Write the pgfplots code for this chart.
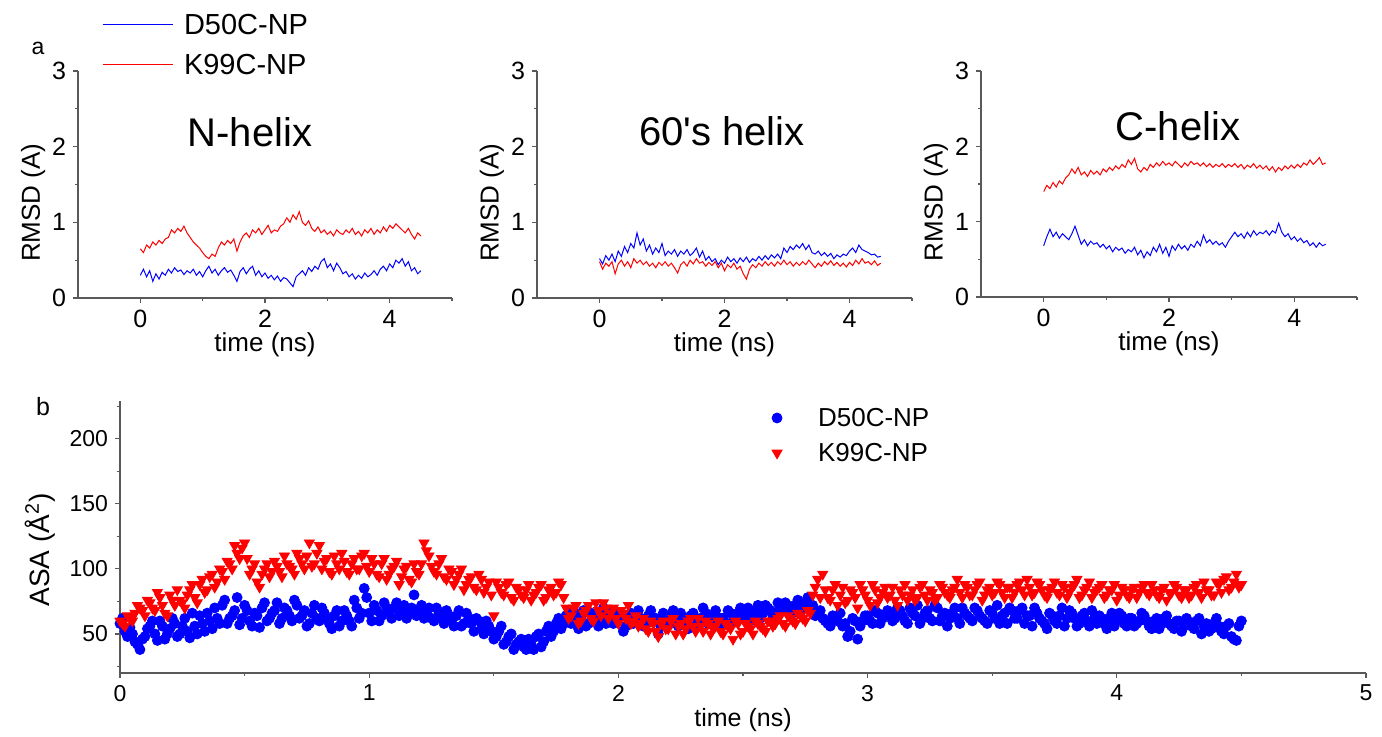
\documentclass[border=0pt]{standalone}
\usepackage{fontspec}
\setmainfont{Liberation Sans}
\usepackage{pgfplots}
\usepackage{pgfplotstable}
\pgfplotsset{compat=1.18}

\pgfplotstableread{
t d50 k99
0.00 0.30 0.65
0.05 0.38 0.60
0.10 0.28 0.70
0.15 0.36 0.66
0.20 0.22 0.74
0.25 0.32 0.70
0.30 0.25 0.76
0.35 0.34 0.72
0.40 0.30 0.78
0.45 0.38 0.80
0.50 0.33 0.90
0.55 0.40 0.86
0.60 0.35 0.92
0.65 0.37 0.88
0.70 0.31 0.95
0.75 0.36 0.86
0.80 0.33 0.80
0.85 0.38 0.74
0.90 0.30 0.70
0.95 0.35 0.66
1.00 0.28 0.60
1.05 0.36 0.55
1.10 0.42 0.52
1.15 0.33 0.58
1.20 0.38 0.55
1.25 0.30 0.66
1.30 0.36 0.74
1.35 0.40 0.70
1.40 0.34 0.76
1.45 0.37 0.72
1.50 0.30 0.78
1.55 0.22 0.62
1.60 0.35 0.74
1.65 0.40 0.82
1.70 0.32 0.86
1.75 0.38 0.80
1.80 0.42 0.90
1.85 0.30 0.86
1.90 0.36 0.92
1.95 0.28 0.84
2.00 0.33 0.90
2.05 0.26 0.96
2.10 0.30 0.86
2.15 0.24 0.90
2.20 0.29 0.88
2.25 0.22 0.95
2.30 0.27 0.98
2.35 0.25 1.06
2.40 0.20 1.00
2.45 0.15 1.10
2.50 0.28 1.04
2.55 0.32 1.14
2.60 0.36 1.00
2.65 0.30 0.96
2.70 0.40 1.02
2.75 0.35 0.92
2.80 0.42 0.88
2.85 0.38 0.94
2.90 0.48 0.86
2.95 0.52 0.90
3.00 0.40 0.84
3.05 0.45 0.88
3.10 0.36 0.82
3.15 0.46 0.90
3.20 0.40 0.86
3.25 0.32 0.84
3.30 0.35 0.90
3.35 0.28 0.86
3.40 0.32 0.92
3.45 0.25 0.84
3.50 0.30 0.88
3.55 0.26 0.82
3.60 0.33 0.90
3.65 0.28 0.86
3.70 0.31 0.92
3.75 0.36 0.84
3.80 0.30 0.90
3.85 0.38 0.86
3.90 0.42 0.94
3.95 0.36 0.88
4.00 0.45 0.96
4.05 0.40 0.92
4.10 0.50 0.98
4.15 0.46 0.94
4.20 0.52 0.90
4.25 0.42 0.86
4.30 0.48 0.92
4.35 0.36 0.84
4.40 0.40 0.78
4.45 0.32 0.86
4.50 0.36 0.82
}\nhelix

\pgfplotstableread{
t d50 k99
0.00 0.52 0.48
0.05 0.45 0.38
0.10 0.56 0.46
0.15 0.50 0.42
0.20 0.58 0.48
0.25 0.48 0.32
0.30 0.62 0.45
0.35 0.55 0.50
0.40 0.68 0.42
0.45 0.60 0.48
0.50 0.72 0.40
0.55 0.66 0.52
0.60 0.86 0.46
0.65 0.70 0.50
0.70 0.78 0.44
0.75 0.62 0.48
0.80 0.70 0.42
0.85 0.58 0.46
0.90 0.66 0.40
0.95 0.60 0.47
1.00 0.72 0.43
1.05 0.56 0.48
1.10 0.62 0.42
1.15 0.58 0.46
1.20 0.64 0.40
1.25 0.55 0.33
1.30 0.62 0.44
1.35 0.58 0.48
1.40 0.64 0.42
1.45 0.56 0.50
1.50 0.60 0.45
1.55 0.66 0.52
1.60 0.54 0.46
1.65 0.62 0.48
1.70 0.50 0.42
1.75 0.55 0.47
1.80 0.48 0.43
1.85 0.52 0.48
1.90 0.44 0.40
1.95 0.50 0.46
2.00 0.46 0.36
2.05 0.54 0.44
2.10 0.48 0.40
2.15 0.52 0.46
2.20 0.46 0.38
2.25 0.53 0.42
2.30 0.48 0.32
2.35 0.54 0.25
2.40 0.47 0.38
2.45 0.52 0.44
2.50 0.49 0.40
2.55 0.55 0.46
2.60 0.50 0.42
2.65 0.56 0.48
2.70 0.51 0.43
2.75 0.57 0.47
2.80 0.53 0.42
2.85 0.58 0.48
2.90 0.52 0.44
2.95 0.66 0.50
3.00 0.60 0.44
3.05 0.68 0.48
3.10 0.64 0.42
3.15 0.70 0.47
3.20 0.66 0.43
3.25 0.72 0.48
3.30 0.64 0.44
3.35 0.70 0.50
3.40 0.60 0.45
3.45 0.58 0.40
3.50 0.62 0.46
3.55 0.56 0.42
3.60 0.60 0.48
3.65 0.55 0.44
3.70 0.59 0.49
3.75 0.52 0.43
3.80 0.57 0.47
3.85 0.54 0.42
3.90 0.58 0.46
3.95 0.56 0.41
4.00 0.62 0.47
4.05 0.66 0.43
4.10 0.60 0.50
4.15 0.70 0.45
4.20 0.64 0.52
4.25 0.62 0.46
4.30 0.60 0.48
4.35 0.57 0.44
4.40 0.58 0.49
4.45 0.54 0.43
4.50 0.55 0.46
}\sixtyhelix

\pgfplotstableread{
t d50 k99
0.00 0.68 1.40
0.05 0.80 1.48
0.10 0.90 1.44
0.15 0.80 1.52
0.20 0.86 1.46
0.25 0.78 1.54
0.30 0.84 1.50
0.35 0.80 1.58
0.40 0.76 1.62
0.45 0.84 1.70
0.50 0.94 1.64
0.55 0.82 1.72
0.60 0.70 1.62
0.65 0.76 1.66
0.70 0.68 1.60
0.75 0.74 1.68
0.80 0.70 1.63
0.85 0.72 1.67
0.90 0.66 1.62
0.95 0.70 1.70
1.00 0.64 1.66
1.05 0.68 1.72
1.10 0.60 1.68
1.15 0.66 1.74
1.20 0.62 1.70
1.25 0.65 1.76
1.30 0.58 1.72
1.35 0.63 1.82
1.40 0.60 1.76
1.45 0.66 1.84
1.50 0.56 1.70
1.55 0.62 1.66
1.60 0.52 1.72
1.65 0.60 1.68
1.70 0.55 1.76
1.75 0.66 1.72
1.80 0.60 1.78
1.85 0.70 1.74
1.90 0.58 1.80
1.95 0.66 1.75
2.00 0.54 1.78
2.05 0.68 1.74
2.10 0.62 1.80
2.15 0.70 1.76
2.20 0.64 1.72
2.25 0.68 1.78
2.30 0.62 1.74
2.35 0.70 1.80
2.40 0.66 1.76
2.45 0.74 1.78
2.50 0.68 1.74
2.55 0.82 1.78
2.60 0.72 1.73
2.65 0.76 1.77
2.70 0.70 1.72
2.75 0.74 1.76
2.80 0.69 1.73
2.85 0.72 1.77
2.90 0.66 1.72
2.95 0.74 1.76
3.00 0.80 1.73
3.05 0.86 1.77
3.10 0.80 1.72
3.15 0.84 1.76
3.20 0.78 1.70
3.25 0.86 1.75
3.30 0.80 1.72
3.35 0.88 1.77
3.40 0.82 1.71
3.45 0.86 1.75
3.50 0.84 1.70
3.55 0.88 1.74
3.60 0.82 1.68
3.65 0.88 1.73
3.70 0.85 1.66
3.75 0.98 1.72
3.80 0.86 1.68
3.85 0.80 1.74
3.90 0.84 1.70
3.95 0.76 1.75
4.00 0.80 1.71
4.05 0.74 1.76
4.10 0.78 1.72
4.15 0.72 1.78
4.20 0.75 1.75
4.25 0.68 1.82
4.30 0.72 1.76
4.35 0.66 1.80
4.40 0.72 1.85
4.45 0.68 1.76
4.50 0.70 1.78
}\chelix

\pgfplotstableread{
t d50 k99
0.00 58 60
0.02 52 56
0.04 55 62
0.06 44 66
0.08 38 70
0.10 48 64
0.12 56 74
0.14 50 68
0.16 60 78
0.18 46 66
0.20 54 80
0.22 58 72
0.24 50 76
0.26 62 70
0.28 47 84
0.30 56 78
0.32 64 88
0.34 52 82
0.36 60 94
0.38 70 86
0.40 58 100
0.42 76 92
0.44 62 104
0.46 68 118
0.48 57 108
0.50 72 120
0.52 60 96
0.54 66 104
0.56 55 86
0.58 74 100
0.60 62 94
0.62 68 106
0.64 58 98
0.66 70 110
0.68 64 102
0.70 76 96
0.72 62 108
0.74 68 100
0.76 58 120
0.78 72 104
0.80 60 118
0.82 66 106
0.84 58 98
0.86 64 110
0.88 56 100
0.90 68 106
0.92 60 96
0.94 76 108
0.96 62 100
0.98 85 112
1.00 66 98
1.02 72 104
1.04 60 94
1.06 74 108
1.08 66 96
1.10 70 102
1.12 64 88
1.14 72 100
1.16 66 92
1.18 80 104
1.20 68 96
1.22 62 120
1.24 70 110
1.26 60 98
1.28 66 104
1.30 58 94
1.32 64 100
1.34 56 88
1.36 68 96
1.38 58 84
1.40 62 92
1.42 52 86
1.44 60 96
1.46 50 82
1.48 56 90
1.50 46 64
1.52 52 86
1.54 42 80
1.56 48 90
1.58 38 76
1.60 44 84
1.62 40 78
1.64 46 88
1.66 38 80
1.68 50 86
1.70 44 76
1.72 56 84
1.74 52 80
1.76 62 90
1.78 58 78
1.80 66 62
1.82 60 70
1.84 54 58
1.86 68 66
1.88 58 72
1.90 64 60
1.92 56 68
1.94 70 74
1.96 62 62
1.98 58 70
2.00 66 58
2.02 52 66
2.04 62 72
2.06 58 60
2.08 68 56
2.10 56 62
2.12 64 52
2.14 60 58
2.16 50 48
2.18 66 60
2.20 60 54
2.22 68 62
2.24 56 56
2.26 62 50
2.28 54 60
2.30 66 56
2.32 60 62
2.34 70 52
2.36 58 58
2.38 64 54
2.40 56 60
2.42 62 50
2.44 68 56
2.46 60 46
2.48 66 58
2.50 62 52
2.52 70 56
2.54 64 50
2.56 72 58
2.58 66 54
2.60 70 60
2.62 64 56
2.64 74 62
2.66 68 58
2.68 72 64
2.70 66 60
2.72 76 66
2.74 70 62
2.76 78 68
2.78 72 80
2.80 66 92
2.82 62 96
2.84 58 78
2.86 64 84
2.88 60 72
2.90 56 86
2.92 48 76
2.94 62 82
2.96 46 70
2.98 60 84
3.00 64 76
3.02 58 88
3.04 66 74
3.06 62 82
3.08 68 78
3.10 60 86
3.12 70 72
3.14 64 80
3.16 58 76
3.18 66 84
3.20 72 78
3.22 62 88
3.24 68 76
3.26 60 82
3.28 70 78
3.30 64 86
3.32 56 80
3.34 66 84
3.36 62 92
3.38 70 78
3.40 64 86
3.42 60 80
3.44 68 88
3.46 62 76
3.48 58 84
3.50 66 80
3.52 72 90
3.54 64 82
3.56 58 86
3.58 68 78
3.60 62 88
3.62 70 84
3.64 64 92
3.66 56 80
3.68 66 90
3.70 60 84
3.72 54 78
3.74 64 86
3.76 58 82
3.78 70 88
3.80 62 78
3.82 66 86
3.84 56 92
3.86 64 80
3.88 60 86
3.90 68 78
3.92 58 84
3.94 62 88
3.96 54 80
3.98 66 84
4.00 60 76
4.02 64 86
4.04 56 80
4.06 62 84
4.08 58 78
4.10 66 86
4.12 60 82
4.14 54 88
4.16 62 80
4.18 58 84
4.20 64 76
4.22 56 82
4.24 60 86
4.26 52 78
4.28 62 84
4.30 56 80
4.32 60 88
4.34 50 78
4.36 58 84
4.38 54 80
4.40 62 90
4.42 52 82
4.44 56 94
4.46 48 86
4.48 45 96
4.50 60 88
}\asa

\pgfplotstableread{
t d50 k99
0.01 62 58
0.03 48 64
0.05 50 60
0.07 42 72
0.09 46 68
0.11 54 76
0.13 60 70
0.15 45 82
0.17 56 72
0.19 50 64
0.21 62 76
0.23 48 84
0.25 56 74
0.27 52 80
0.29 66 88
0.31 50 74
0.33 58 92
0.35 66 84
0.37 54 96
0.39 62 90
0.41 72 98
0.43 58 106
0.45 64 100
0.47 78 112
0.49 62 116
0.51 68 108
0.53 56 100
0.55 64 90
0.57 70 96
0.59 60 104
0.61 66 98
0.63 74 102
0.65 62 94
0.67 68 104
0.69 60 100
0.71 72 112
0.73 64 104
0.75 56 110
0.77 66 102
0.79 62 112
0.81 70 100
0.83 62 108
0.85 54 96
0.87 68 104
0.89 60 112
0.91 64 98
0.93 56 104
0.95 70 100
0.97 66 110
0.99 78 102
1.01 60 108
1.03 68 96
1.05 64 104
1.07 70 92
1.09 62 100
1.11 74 106
1.13 68 94
1.15 62 102
1.17 70 90
1.19 64 98
1.21 72 104
1.23 66 114
1.25 62 102
1.27 70 96
1.29 62 108
1.31 68 92
1.33 60 98
1.35 64 92
1.37 56 100
1.39 66 88
1.41 58 94
1.43 62 84
1.45 54 92
1.47 60 86
1.49 52 80
1.51 48 90
1.53 56 82
1.55 44 88
1.57 50 78
1.59 42 86
1.61 46 80
1.63 38 84
1.65 42 76
1.67 48 82
1.69 40 88
1.71 52 78
1.73 48 86
1.75 58 82
1.77 54 88
1.79 64 70
1.81 58 64
1.83 66 72
1.85 62 60
1.87 56 68
1.89 66 62
1.91 60 74
1.93 64 64
1.95 58 70
1.97 66 66
1.99 60 62
2.01 64 68
2.03 56 62
2.05 66 58
2.07 60 64
2.09 62 58
2.11 58 54
2.13 68 60
2.15 62 52
2.17 56 58
2.19 64 54
2.21 58 60
2.23 62 50
2.25 66 58
2.27 58 54
2.29 64 62
2.31 56 52
2.33 62 56
2.35 66 60
2.37 60 50
2.39 68 56
2.41 62 52
2.43 58 58
2.45 66 54
2.47 62 60
2.49 70 50
2.51 64 58
2.53 60 54
2.55 68 60
2.57 62 56
2.59 72 52
2.61 68 60
2.63 66 58
2.65 70 64
2.67 74 56
2.69 68 62
2.71 72 58
2.73 66 64
2.75 74 60
2.77 70 66
2.79 64 86
2.81 68 78
2.83 60 84
2.85 56 76
2.87 62 88
2.89 66 80
2.91 58 74
2.93 52 84
2.95 60 78
2.97 56 88
2.99 64 80
3.01 60 72
3.03 68 84
3.05 58 78
3.07 64 86
3.09 66 80
3.11 62 76
3.13 68 84
3.15 60 88
3.17 70 80
3.19 64 76
3.21 58 86
3.23 66 80
3.25 62 84
3.27 72 76
3.29 60 88
3.31 66 82
3.33 62 78
3.35 70 86
3.37 58 82
3.39 66 88
3.41 62 80
3.43 70 84
3.45 64 90
3.47 60 80
3.49 68 86
3.51 62 82
3.53 58 88
3.55 66 78
3.57 70 86
3.59 62 82
3.61 68 90
3.63 58 80
3.65 64 86
3.67 70 82
3.69 62 88
3.71 58 80
3.73 66 84
3.75 60 90
3.77 64 80
3.79 56 86
3.81 68 82
3.83 62 88
3.85 58 78
3.87 66 84
3.89 56 90
3.91 62 82
3.93 64 86
3.95 58 78
3.97 62 84
3.99 56 88
4.01 66 80
4.03 58 84
4.05 62 78
4.07 56 86
4.09 60 82
4.11 64 88
4.13 56 80
4.15 60 84
4.17 54 78
4.19 62 86
4.21 58 82
4.23 54 88
4.25 60 80
4.27 56 84
4.29 58 78
4.31 54 86
4.33 62 82
4.35 56 90
4.37 52 84
4.39 58 80
4.41 56 88
4.43 50 92
4.45 58 84
4.47 46 90
4.49 56 86
}\asab

\pgfplotsset{
  common/.style={
    scale only axis, anchor=south west, clip=false,
    axis lines=left,
    axis line style={-, black!65, line width=0.6pt},
    tick align=outside,
    tick style={black!65, line width=0.6pt},
    major tick length=2.5pt, minor tick length=1.6pt,
    /pgf/number format/assume math mode=true,
  },
  rmsdpanel/.style={
    common,
    width=187pt, height=113.5pt,
    xmin=-1, xmax=5, ymin=0, ymax=3,
    xtick={0,2,4}, ytick={0,1,2,3},
    minor xtick={1,3,5}, minor ytick={0.5,1.5,2.5},
    ticklabel style={font=\fontsize{12.5}{14}\selectfont},
    label style={font=\fontsize{13}{15}\selectfont},
    xlabel={time (ns)}, ylabel={RMSD (A)},
    xlabel style={at={(axis description cs:0.5,-0.206)}, anchor=center},
    ylabel style={at={(axis description cs:-0.12,0.42)}, anchor=center},
  },
  d50line/.style={blue, line width=0.5pt, no marks},
  k99line/.style={red, line width=0.5pt, no marks},
  d50mark/.style={only marks, mark=*, mark size=2.5pt, mark options={draw=blue, fill=blue}},
  k99mark/.style={only marks, mark=triangle*, mark size=2.9pt, mark options={rotate=180, draw=red, fill=red}},
}

\begin{document}
\begin{tikzpicture}
\useasboundingbox (0,0) rectangle (691pt,368.5pt);

% Panel a: N-helix
\begin{axis}[rmsdpanel, at={(39pt,219.5pt)},
  legend cell align=left,
  legend image code/.code={\draw[#1] (0pt,0pt) -- (35pt,0pt);},
  legend style={at={(axis description cs:0.0642,1.2467)}, anchor=north west,
    draw=none, fill=none, inner sep=0pt, outer sep=0pt,
    row sep=10pt, column sep=5.5pt,
    font=\fontsize{14.5}{16}\selectfont,
    nodes={inner sep=0pt, text height=10pt, text depth=0pt}},
]
\addplot[d50line] table[x=t, y=d50] {\nhelix};
\addlegendentry{D50C-NP}
\addplot[k99line] table[x=t, y=k99] {\nhelix};
\addlegendentry{K99C-NP}
\end{axis}

% Panel a: 60's helix
\begin{axis}[rmsdpanel, at={(268.5pt,219.5pt)}, width=187.5pt]
\addplot[d50line] table[x=t, y=d50] {\sixtyhelix};
\addplot[k99line] table[x=t, y=k99] {\sixtyhelix};
\end{axis}

% Panel a: C-helix
\begin{axis}[rmsdpanel, at={(490.5pt,220pt)}, width=188pt, height=113pt]
\addplot[k99line] table[x=t, y=k99] {\chelix};
\addplot[d50line] table[x=t, y=d50] {\chelix};
\end{axis}

% Panel b: ASA
\begin{axis}[common, at={(60pt,32pt)}, width=623pt, height=136pt,
  xmin=0, xmax=5, ymin=20, ymax=229,
  xtick={0,1,2,3,4,5}, minor xtick={0.5,1.5,2.5,3.5,4.5},
  ytick={50,100,150,200}, minor ytick={25,75,125,175,225},
  ticklabel style={font=\fontsize{11.5}{13}\selectfont},
  label style={font=\fontsize{12.5}{14}\selectfont},
  xlabel={time (ns)}, ylabel={ASA (Å\textsuperscript{2})},
  xlabel style={at={(axis description cs:0.5,-0.173)}, anchor=center},
  ylabel style={at={(axis description cs:-0.0642,0.452)}, anchor=center, font=\fontsize{14}{16}\selectfont},
  legend cell align=left,
  legend image code/.code={\draw[#1] plot coordinates {(0pt,0pt)};},
  legend style={at={(axis description cs:0.5233,0.9706)}, anchor=north west,
    draw=none, fill=none, inner sep=0pt, outer sep=0pt,
    row sep=8.5pt, column sep=18pt,
    font=\fontsize{13}{15}\selectfont,
    nodes={inner sep=0pt, text height=9pt, text depth=0pt}},
]
\addplot[d50mark] table[x=t, y=d50] {\asa};
\addlegendentry{D50C-NP}
\addplot[d50mark, forget plot] table[x=t, y=d50] {\asab};
\addplot[k99mark] table[x=t, y=k99] {\asa};
\addlegendentry{K99C-NP}
\addplot[k99mark, forget plot] table[x=t, y=k99] {\asab};
\end{axis}

\node[font=\fontsize{20}{24}\selectfont] at (125pt,302.5pt) {N-helix};
\node[font=\fontsize{20}{24}\selectfont] at (361pt,303pt) {60\textquotesingle s helix};
\node[font=\fontsize{20}{24}\selectfont] at (589pt,305.5pt) {C-helix};
\node[font=\fontsize{11.5}{13}\selectfont] at (19pt,344.5pt) {a};
\node[font=\fontsize{12.5}{14}\selectfont] at (21.5pt,165pt) {b};
\end{tikzpicture}
\end{document}
